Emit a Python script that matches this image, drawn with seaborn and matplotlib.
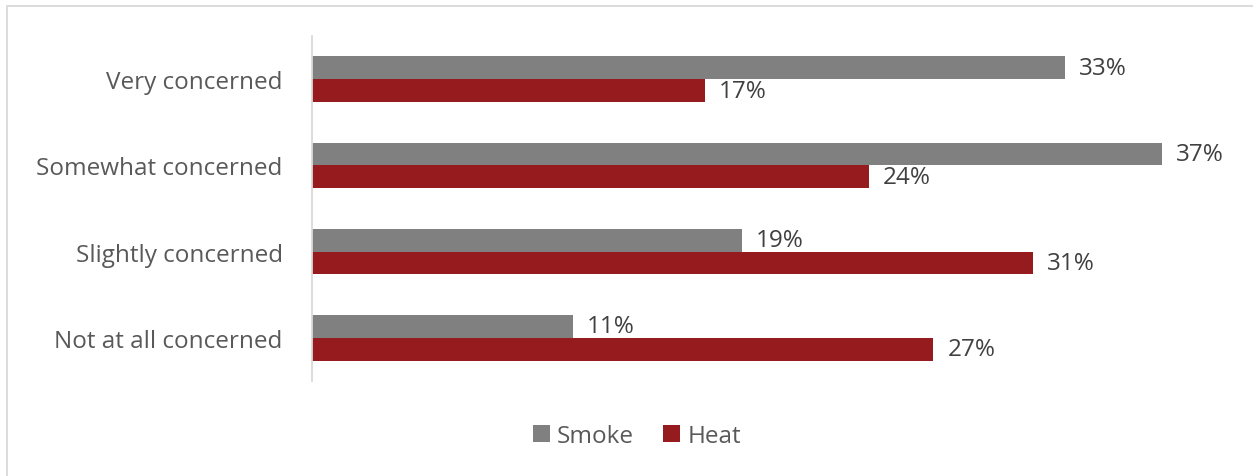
import matplotlib
matplotlib.use("Agg")
import matplotlib.pyplot as plt
import seaborn as sns
import pandas as pd
from matplotlib.patches import Rectangle, Patch

categories = ["Very concerned", "Somewhat concerned", "Slightly concerned", "Not at all concerned"]
series = ["Smoke", "Heat"]
smoke = [32.6, 36.8, 18.6, 11.3]
heat = [17.0, 24.1, 31.2, 26.9]
colors = ["#808080", "#951B1E"]

df = pd.DataFrame({
    "category": categories * 2,
    "series": ["Smoke"] * 4 + ["Heat"] * 4,
    "value": smoke + heat,
})

sns.set_style("white")
plt.rcParams["font.family"] = ["Open Sans", "DejaVu Sans"]

W, H = 1253, 477
FS = 17.5
fig = plt.figure(figsize=(W / 100, H / 100), dpi=100)
ax = fig.add_axes([312 / W, 1 - 382 / H, (1236 - 312) / W, (382 - 37) / H])

sns.barplot(data=df, y="category", x="value", hue="series", order=categories,
            hue_order=series, palette=colors, width=0.53, orient="h", ax=ax,
            saturation=1, legend=False, linewidth=0)

ax.set_xlim(0, 40)
ax.set_ylim(3.5, -0.5)
ax.set_xlabel("")
ax.set_ylabel("")
ax.set_xticks([])
for s in ["top", "right", "bottom"]:
    ax.spines[s].set_visible(False)
ax.spines["left"].set_color("#d9d9d9")
ax.spines["left"].set_linewidth(1.3)
ax.tick_params(axis="y", length=0, pad=21, labelsize=FS, labelcolor="#595959")

for cont in ax.containers:
    labels = [f"{b.get_width():.0f}%" for b in cont]
    ax.bar_label(cont, labels=labels, padding=10, fontsize=FS, color="#404040")

handles = [Patch(facecolor=c, edgecolor="none") for c in colors]
fig.legend(handles, series, loc="center", bbox_to_anchor=(637 / W, 1 - 437 / H),
           ncol=2, frameon=False, fontsize=FS, handlelength=0.7, handleheight=0.7,
           handletextpad=0.3, columnspacing=1.2, labelcolor="#595959")

fig.patches.append(Rectangle((7 / W, -0.1), 1.2, 1 - 7 / H + 0.1, transform=fig.transFigure,
                             fill=False, edgecolor="#d9d9d9", linewidth=1.3))

fig.savefig("out.png", dpi=100)
